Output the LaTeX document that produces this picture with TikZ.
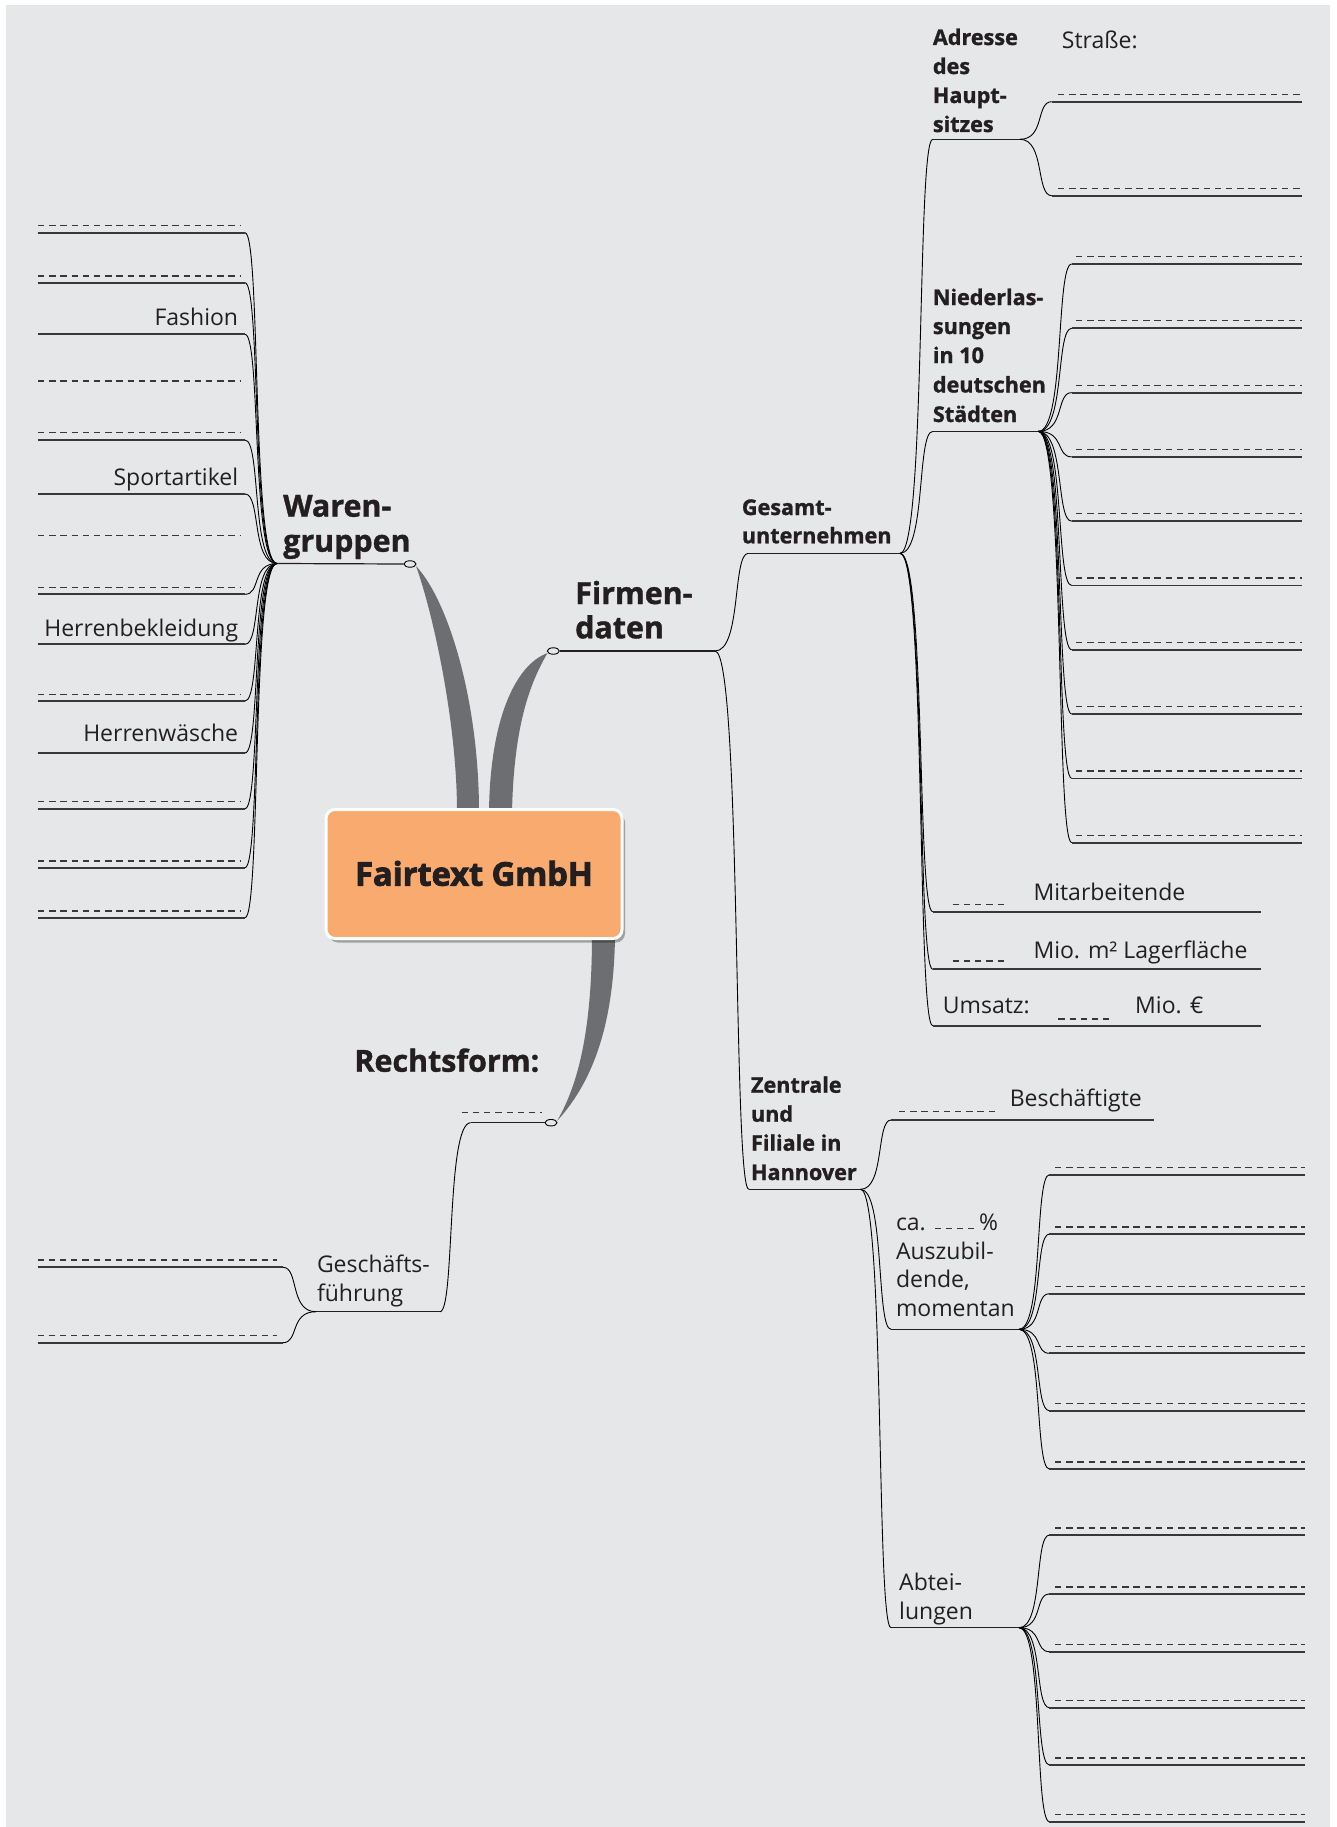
\documentclass[tikz,border=0pt]{standalone}
\usepackage{fontspec}
\setmainfont{Open Sans}[BoldFeatures={FakeBold=1.2}]
\newfontfamily\heavyfont{Open Sans}[BoldFeatures={FakeBold=2.6}]
\usetikzlibrary{shapes.geometric,shadows}
\definecolor{bg}{HTML}{E6E7E8}
\definecolor{txt}{HTML}{231F20}
\definecolor{leafc}{HTML}{38383A}
\definecolor{bandc}{HTML}{6D6E71}
\definecolor{orangec}{HTML}{F8AA6F}
\newcommand{\mmlink}[4]{\draw[conn] (#1) .. controls +(#3,0) and +(#4,0) .. (#2);}
\begin{document}
\begin{tikzpicture}[x=1pt,y=-1pt,
  conn/.style={line width=0.9pt, draw=black},
  hubline/.style={line width=1.2pt, draw=txt},
  leafline/.style={line width=1.8pt, draw=leafc},
  blank/.style={line width=1.2pt, draw=leafc, dash pattern=on 6.3pt off 4.9pt},
  lbl/.style={inner sep=0pt, text=txt, font=\fontsize{23}{28}\selectfont},
  blbl/.style={inner sep=0pt, text=txt, font=\bfseries\fontsize{21.6}{26}\selectfont},
  mainlbl/.style={inner sep=0pt, text=txt, font=\bfseries\fontsize{30.4}{36}\selectfont},
  band/.style={fill=bandc, draw=none},
  knob/.style={ellipse, draw=black, line width=0.9pt, fill=bg, minimum width=12pt, minimum height=6.5pt, inner sep=0pt},
  centerbox/.style={rectangle, rounded corners=9pt, fill=orangec, draw=white, line width=3pt,
    minimum width=296pt, minimum height=129pt, inner sep=0pt, text=txt,
    font=\heavyfont\bfseries\fontsize{32.6}{36}\selectfont, text height=23.3pt, text depth=0pt,
    drop shadow={shadow xshift=3pt, shadow yshift=-4pt, fill=black, opacity=0.3}}
]
\path[use as bounding box, fill=white] (0,0) rectangle (1337,1827);
\fill[bg] (6,5) rectangle (1330,1827);

% ---------- thick bands from the centre ----------
\path[band] (457,812) .. controls (457,720) and (432,610) .. (416,566)
   .. controls (448,600) and (479,700) .. (479,812) -- cycle;
\path[band] (489,812) .. controls (490,720) and (515,665) .. (547.5,653)
   .. controls (532,680) and (514,720) .. (512,812) -- cycle;
\path[band] (592,935) .. controls (592,1040) and (575,1090) .. (557,1121)
   .. controls (590,1085) and (614,1030) .. (615,935) -- cycle;

% ---------- central node ----------
\node[centerbox] (center) at (474,874) {Fairtext GmbH};

% ---------- Warengruppen ----------
\coordinate (wgH) at (277,563.5);
\node[knob] (wgK) at (410,564) {};
\draw[hubline] (wgH) -- (wgK.west);
\node[mainlbl, anchor=base west] (wg1) at (283,516.7) {Waren-};
\node[mainlbl, anchor=base west] (wg2) at (283,551.7) {gruppen};
\foreach \y [count=\i] in {232.7,282.7,334.3,440,494,594.3,644.3,701,753,808.7,867.7,917.7}{
  \coordinate (wlA\i) at (37.7,\y);
  \coordinate (wlB\i) at (245,\y);
  \mmlink{wgH}{wlB\i}{-25.6}{16}
  \draw[leafline] (wlA\i) -- (wlB\i);
}
\foreach \y [count=\i] in {225.7,276,381,432.3,535.7,587.3,694.3,801.3,861,911}{
  \coordinate (wdA\i) at (38,\y);
  \coordinate (wdB\i) at (240,\y);
  \draw[blank] (wdA\i) -- (wdB\i);
}
\node[lbl, anchor=base east] (fash) at (238.3,325) {Fashion};
\node[lbl, anchor=base east] (sport) at (238.3,485) {Sportartikel};
\node[lbl, anchor=base east] (hbek) at (238.3,636.7) {Herrenbekleidung};
\node[lbl, anchor=base east] (hwae) at (238.3,741.7) {Herrenwäsche};

% ---------- Firmendaten ----------
\node[knob] (fdK) at (553.3,651) {};
\coordinate (fdH) at (715,651);
\draw[hubline] (fdK.east) -- (fdH);
\node[mainlbl, anchor=base west] (fd1) at (575,604) {Firmen-};
\node[mainlbl, anchor=base west] (fd2) at (575,638.3) {daten};

% Gesamtunternehmen
\coordinate (gsL) at (748.3,553.3);
\coordinate (gsH) at (900,553.3);
\mmlink{fdH}{gsL}{26.6}{-16}
\draw[hubline] (gsL) -- (gsH);
\node[blbl, anchor=base west] (gs1) at (741.7,515) {Gesamt-};
\node[blbl, anchor=base west] (gs2) at (741.7,543.3) {unternehmen};

% Adresse des Hauptsitzes
\coordinate (adL) at (932.7,139.3);
\coordinate (adH) at (1020,139.3);
\mmlink{gsH}{adL}{26}{-16}
\draw[hubline] (adL) -- (adH);
\node[blbl, anchor=base west] (ad1) at (932.7,45) {Adresse};
\node[blbl, anchor=base west] (ad2) at (932.7,74) {des};
\node[blbl, anchor=base west] (ad3) at (932.7,103) {Haupt-};
\node[blbl, anchor=base west] (ad4) at (932.7,132) {sitzes};
\node[lbl, anchor=base west] (strasse) at (1061.7,48.3) {Straße:};
\foreach \y [count=\i] in {101.7,195.7}{
  \coordinate (alA\i) at (1051.7,\y);
  \coordinate (alB\i) at (1301.7,\y);
  \coordinate (adA\i) at (1058,\y-6.8);
  \coordinate (adB\i) at (1301.7,\y-6.8);
  \mmlink{adH}{alA\i}{25}{-16}
  \draw[leafline] (alA\i) -- (alB\i);
  \draw[blank] (adA\i) -- (adB\i);
}

% Niederlassungen
\coordinate (nlL) at (932.7,431.4);
\coordinate (nlH) at (1038.3,431.4);
\mmlink{gsH}{nlL}{26}{-16}
\draw[hubline] (nlL) -- (nlH);
\node[blbl, anchor=base west] (nl1) at (932.7,305) {Niederlas-};
\node[blbl, anchor=base west] (nl2) at (932.7,334) {sungen};
\node[blbl, anchor=base west] (nl3) at (932.7,363) {in 10};
\node[blbl, anchor=base west] (nl4) at (932.7,392.5) {deutschen};
\node[blbl, anchor=base west] (nl5) at (932.7,422) {Städten};
\foreach \y [count=\i] in {264,328.3,392.6,456.9,521.2,585.5,649.8,714.1,778.4,842.7}{
  \coordinate (nA\i) at (1071.7,\y);
  \coordinate (nB\i) at (1301.7,\y);
  \coordinate (ndA\i) at (1076,\y-7.5);
  \coordinate (ndB\i) at (1301.7,\y-7.5);
  \mmlink{nlH}{nA\i}{26.7}{-16}
  \draw[leafline] (nA\i) -- (nB\i);
  \draw[blank] (ndA\i) -- (ndB\i);
}

% Mitarbeitende, Lagerflaeche, Umsatz
\coordinate (maL) at (932.7,911.7);  \coordinate (maR) at (1260.7,911.7);
\coordinate (lfL) at (932.7,969.3);  \coordinate (lfR) at (1260.7,969.3);
\coordinate (umL) at (932.7,1025.7); \coordinate (umR) at (1260.7,1025.7);
\mmlink{gsH}{maL}{26}{-16}
\mmlink{gsH}{lfL}{26}{-16}
\mmlink{gsH}{umL}{26}{-16}
\draw[leafline] (maL) -- (maR);
\draw[leafline] (lfL) -- (lfR);
\draw[leafline] (umL) -- (umR);
\coordinate (maDA) at (952.7,904.3); \coordinate (maDB) at (1004,904.3);
\coordinate (lfDA) at (952.7,961);   \coordinate (lfDB) at (1004,961);
\coordinate (umDA) at (1058.3,1019); \coordinate (umDB) at (1109.6,1019);
\draw[blank] (maDA) -- (maDB);
\draw[blank] (lfDA) -- (lfDB);
\draw[blank] (umDA) -- (umDB);
\node[lbl, anchor=base west] (mitarb) at (1033.3,900) {Mitarbeitende};
\node[lbl, anchor=base west] (lager) at (1033.3,958.3) {Mio. m² Lagerfläche};
\node[lbl, anchor=base west] (umsatz) at (942.7,1013.3) {Umsatz:};
\node[lbl, anchor=base west] (mioeur) at (1135,1013.3) {Mio. €};

% Zentrale und Filiale in Hannover
\coordinate (ztL) at (748.8,1189.3);
\coordinate (ztH) at (860.5,1189.3);
\mmlink{fdH}{ztL}{26.6}{-16}
\draw[hubline] (ztL) -- (ztH);
\node[blbl, anchor=base west] (zt1) at (750.8,1092.7) {Zentrale};
\node[blbl, anchor=base west] (zt2) at (750.8,1121.7) {und};
\node[blbl, anchor=base west] (zt3) at (750.8,1150.7) {Filiale in};
\node[blbl, anchor=base west] (zt4) at (750.8,1180) {Hannover};

% Beschaeftigte
\coordinate (bsL) at (891,1120);
\coordinate (bsR) at (1153.8,1120);
\mmlink{ztH}{bsL}{24.4}{-15}
\draw[leafline] (bsL) -- (bsR);
\coordinate (bsDA) at (899,1111.7); \coordinate (bsDB) at (996,1111.7);
\draw[blank] (bsDA) -- (bsDB);
\node[lbl, anchor=base west] (besch) at (1009.6,1106) {Beschäftigte};

% Auszubildende
\coordinate (azL) at (891,1329.3);
\coordinate (azH) at (1019,1329.3);
\mmlink{ztH}{azL}{24.4}{-15}
\draw[hubline] (azL) -- (azH);
\node[lbl, anchor=base west] (az1) at (895.8,1230) {ca.};
\coordinate (azDA) at (934.8,1228.5); \coordinate (azDB) at (977,1228.5);
\draw[blank, dash pattern=on 6pt off 5pt] (azDA) -- (azDB);
\node[lbl, anchor=base west] (azp) at (979,1230) {\%};
\node[lbl, anchor=base west] (az2) at (895.8,1259.3) {Auszubil-};
\node[lbl, anchor=base west] (az3) at (895.8,1287.7) {dende,};
\node[lbl, anchor=base west] (az4) at (895.8,1316.7) {momentan};
\foreach \y [count=\i] in {1174.7,1234,1293.7,1353.3,1410.7,1469}{
  \coordinate (zA\i) at (1049.4,\y);
  \coordinate (zB\i) at (1305.3,\y);
  \coordinate (zdA\i) at (1055,\y-7);
  \coordinate (zdB\i) at (1305.3,\y-7);
  \mmlink{azH}{zA\i}{24.3}{-15}
  \draw[leafline] (zA\i) -- (zB\i);
  \draw[blank] (zdA\i) -- (zdB\i);
}

% Abteilungen
\coordinate (abL) at (891,1627.7);
\coordinate (abH) at (1019,1627.7);
\mmlink{ztH}{abL}{24.4}{-15}
\draw[hubline] (abL) -- (abH);
\node[lbl, anchor=base west] (ab1) at (899,1590) {Abtei-};
\node[lbl, anchor=base west] (ab2) at (899,1619.3) {lungen};
\foreach \y [count=\i] in {1535,1594,1651.7,1707.7,1765,1821.7}{
  \coordinate (bA\i) at (1049.4,\y);
  \coordinate (bB\i) at (1305.3,\y);
  \coordinate (bdA\i) at (1055,\y-7);
  \coordinate (bdB\i) at (1305.3,\y-7);
  \mmlink{abH}{bA\i}{24.3}{-15}
  \draw[leafline] (bA\i) -- (bB\i);
  \draw[blank] (bdA\i) -- (bdB\i);
}

% ---------- Rechtsform ----------
\node[knob] (rfK) at (551,1122.7) {};
\coordinate (rfC) at (470.7,1122.7);
\draw[hubline] (rfK.west) -- (rfC);
\node[mainlbl, anchor=base east] (rf) at (539.5,1071.7) {Rechtsform:};
\coordinate (rfDA) at (461.7,1112.7); \coordinate (rfDB) at (541.7,1112.7);
\draw[blank] (rfDA) -- (rfDB);

% Geschaeftsfuehrung
\coordinate (gfR) at (440,1311.7);
\coordinate (gfH) at (316,1311.7);
\mmlink{rfC}{gfR}{-24.6}{15}
\draw[hubline] (gfR) -- (gfH);
\node[lbl, anchor=base west] (gf1) at (316.8,1272.7) {Geschäfts-};
\node[lbl, anchor=base west] (gf2) at (316.8,1301.7) {führung};
\foreach \y [count=\i] in {1267.3,1342.7}{
  \coordinate (gA\i) at (37.5,\y);
  \coordinate (gB\i) at (283,\y);
  \coordinate (gdA\i) at (37.5,\y-7.3);
  \coordinate (gdB\i) at (277.4,\y-7.3);
  \mmlink{gfH}{gB\i}{-26.4}{16}
  \draw[leafline] (gA\i) -- (gB\i);
  \draw[blank] (gdA\i) -- (gdB\i);
}
\end{tikzpicture}
\end{document}
